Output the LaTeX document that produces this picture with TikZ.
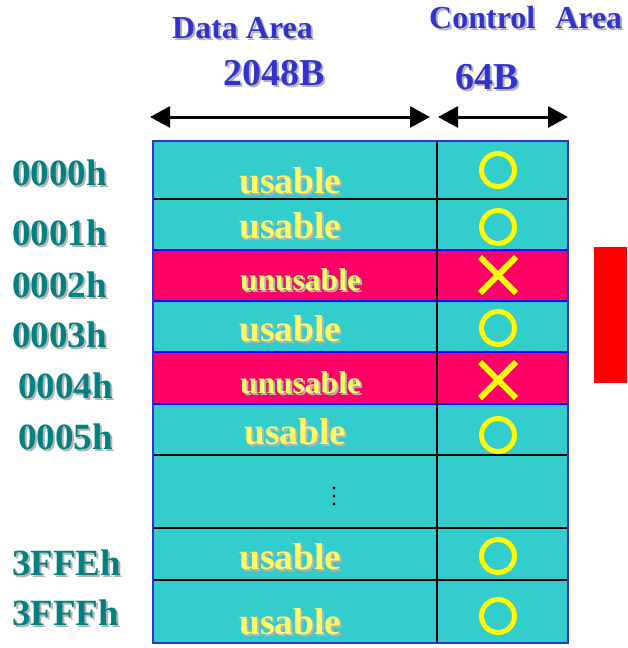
\documentclass[tikz,border=0pt]{standalone}
\usepackage{fontspec}
\setmainfont{Liberation Serif}
\usetikzlibrary{arrows.meta,shapes.misc}

\definecolor{cellcyan}{HTML}{33CCCC}
\definecolor{cellpink}{HTML}{FF0066}
\definecolor{marky}{HTML}{FFFF00}
\definecolor{texty}{HTML}{FFFF66}
\definecolor{addrteal}{HTML}{008080}
\definecolor{titleblue}{HTML}{3333CC}
\definecolor{edgeblue}{HTML}{0000FF}
\definecolor{shade}{HTML}{B4B4B4}

% text with a soft drop shadow
\newcommand{\shtext}[1]{\makebox[0pt][l]{\kern2pt\raisebox{-2pt}{\color{shade}#1}}#1}

\tikzset{
  title/.style={font=\bfseries\fontsize{32}{34}\selectfont,text=titleblue,inner sep=0pt,anchor=base west},
  bytes/.style={title,font=\bfseries\fontsize{38}{40}\selectfont},
  addr/.style={font=\bfseries\fontsize{37}{40}\selectfont,text=addrteal,inner sep=0pt,anchor=base west},
  good/.style={font=\bfseries\fontsize{37.5}{40}\selectfont,text=texty,inner sep=0pt,anchor=base west},
  bad/.style={good,font=\bfseries\fontsize{31.5}{34}\selectfont},
  okmark/.style={circle,draw=marky,line width=5pt,minimum size=33pt,inner sep=0pt},
  ngmark/.style={cross out,draw=marky,line width=6pt,minimum size=30pt,inner sep=0pt}
}

\begin{document}
\begin{tikzpicture}[x=1pt,y=-1pt,>={Triangle[length=20pt,width=21pt]}]
\useasboundingbox (0,0) rectangle (627,648);

% headings
\node[title] (data) at (172,38) {\shtext{Data Area}};
\node[bytes] (dsize) at (223,85) {\shtext{2048B}};
\node[title] (ctrl) at (429,28) {\shtext{Control\hspace{20pt}Area}};
\node[bytes] (csize) at (455,89) {\shtext{64B}};

\coordinate (dl) at (150,117);
\coordinate (dr) at (430,117);
\coordinate (cl) at (438,117);
\coordinate (cr) at (568,117);
\draw[<->,line width=3pt] (dl) -- (dr);
\draw[<->,line width=3pt] (cl) -- (cr);

% page rows
\foreach \t/\b/\c in {141/199/cellcyan,199/250/cellcyan,250/301/cellpink,
    301/352/cellcyan,352/404/cellpink,404/455/cellcyan,455/528/cellcyan,
    528/580/cellcyan,580/643/cellcyan}
  \fill[\c] (153,\t) rectangle (568,\b);
\foreach \y in {199,455,528,580}
  \draw[line width=2.5pt] (153,\y) -- (568,\y);
\draw[edgeblue,line width=2.5pt] (153,250) rectangle (568,301);
\draw[edgeblue,line width=2.5pt] (153,352) rectangle (568,404);
\draw[line width=2.5pt] (437,141) -- (437,643);
\draw[titleblue,line width=2pt] (153,141) rectangle (568,643);

% addresses
\node[addr] (a0) at (12,185) {\shtext{0000h}};
\node[addr] (a1) at (12,245) {\shtext{0001h}};
\node[addr] (a2) at (12,297) {\shtext{0002h}};
\node[addr] (a3) at (12,347) {\shtext{0003h}};
\node[addr] (a4) at (18,398) {\shtext{0004h}};
\node[addr] (a5) at (18,449) {\shtext{0005h}};
\node[addr] (ae) at (12,575) {\shtext{3FFEh}};
\node[addr] (af) at (12,625) {\shtext{3FFFh}};

% data area
\node[good] (u0) at (239,193) {\shtext{usable}};
\node[good] (u1) at (239,238) {\shtext{usable}};
\node[bad] (n2) at (240,290) {\shtext{unusable}};
\node[good] (u3) at (239,341) {\shtext{usable}};
\node[bad] (n4) at (240,393) {\shtext{unusable}};
\node[good] (u5) at (244,444) {\shtext{usable}};
\foreach \y in {488,496,504}
  \fill (334,\y) circle[radius=1.6pt];
\node[good] (ue) at (239,569) {\shtext{usable}};
\node[good] (uf) at (239,634) {\shtext{usable}};

% control area
\node[okmark] (c0) at (498,170) {};
\node[okmark] (c1) at (498,227) {};
\node[ngmark] (x2) at (498,275) {};
\node[okmark] (c3) at (498,328) {};
\node[ngmark] (x4) at (498,380) {};
\node[okmark] (c5) at (498,435) {};
\node[okmark] (ce) at (498,556) {};
\node[okmark] (cf) at (498,616) {};

\fill[red] (594,247) rectangle (627,383);
\end{tikzpicture}
\end{document}
